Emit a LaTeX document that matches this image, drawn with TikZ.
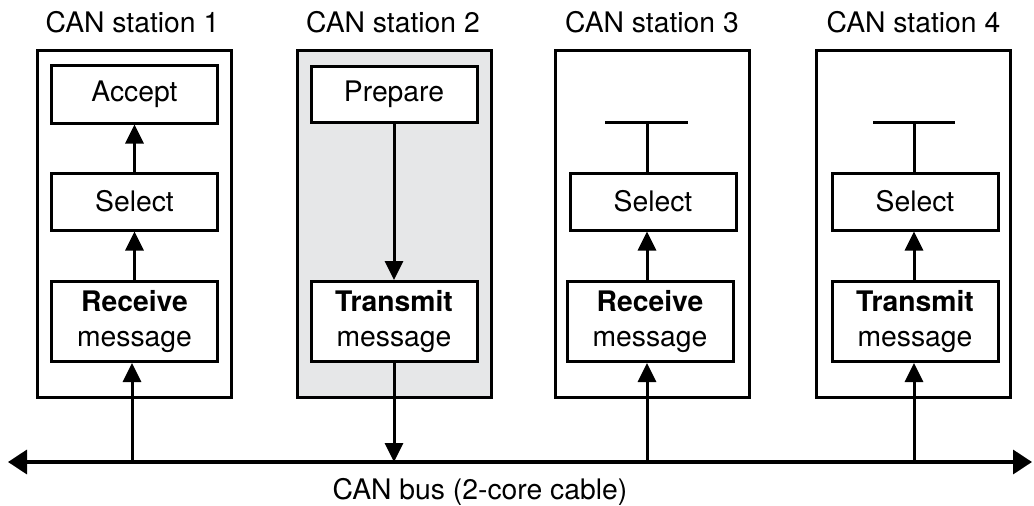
\documentclass[tikz,border=0pt]{standalone}
\usepackage{fontspec}
\setmainfont{TeX Gyre Heros}
\usetikzlibrary{arrows.meta, positioning}
\definecolor{stationgray}{HTML}{E6E7E8}

\begin{document}
\begin{tikzpicture}[
  x=1pt, y=-1pt,
  station/.style={
    draw, line width=3pt, inner sep=0pt,
    minimum width=194pt, minimum height=347pt
  },
  stage/.style={
    draw, fill=white, line width=3pt, inner sep=0pt,
    minimum width=166pt, align=center,
    font=\fontsize{28.3}{35}\selectfont
  },
  title/.style={font=\fontsize{28.3}{33}\selectfont},
  arr/.style={-{Triangle[length=19pt, width=18pt]}, line width=3pt},
  bus/.style={{Triangle[length=19pt, width=24pt]}-{Triangle[length=19pt, width=24pt]}, line width=3.5pt}
]
  \useasboundingbox (0,0) rectangle (1034,506);

  % stations
  \node[station] (st1) at (134.5,223.5) {};
  \node[station, fill=stationgray] (st2) at (394,223.5) {};
  \node[station] (st3) at (652,223.5) {};
  \node[station] (st4) at (913.5,223.5) {};

  \node[title] (t1) at (132.5,22) {CAN station 1};
  \node[title] (t2) at (393,22) {CAN station 2};
  \node[title] (t3) at (652,22) {CAN station 3};
  \node[title] (t4) at (913.5,22) {CAN station 4};

  % station 1
  \node[stage, minimum height=58pt] (acc1) at (134.5,94) {Accept};
  \node[stage, minimum height=57pt] (sel1) at (134.5,201.5) {Select};
  \node[stage, minimum height=80pt] (rec1) at (134.5,321.5) {\textbf{Receive}\\message};

  % station 2
  \node[stage, minimum height=56pt] (prep2) at (394,94.5) {Prepare};
  \node[stage, minimum height=80pt] (tx2) at (394,321.5) {\textbf{Transmit}\\message};

  % station 3
  \node[stage, minimum height=57pt] (sel3) at (653,201.5) {Select};
  \node[stage, minimum height=80pt] (rec3) at (650,321.5) {\textbf{Receive}\\message};

  % station 4
  \node[stage, minimum height=57pt] (sel4) at (915,201.5) {Select};
  \node[stage, minimum height=80pt] (tx4) at (915,321.5) {\textbf{Transmit}\\message};

  % bus
  \coordinate (busL) at (8,462);
  \coordinate (busR) at (1032,462);
  \coordinate (tap1) at (132,462);
  \coordinate (tap2) at (394,462);
  \coordinate (tap3) at (647,462);
  \coordinate (tap4) at (914,462);
  \draw[bus] (busL) -- (busR);
  \node[title] (buslabel) at (480,492) {CAN bus (2-core cable)};

  % blocked outputs
  \coordinate (bar3) at (647,122);
  \coordinate (bar4) at (914,122);

  \draw[arr] (tap1) -- (tap1 |- rec1.south);
  \draw[arr] (rec1) -- (sel1);
  \draw[arr] (sel1) -- (acc1);

  \draw[arr] (prep2) -- (tx2);
  \draw[arr] (tx2) -- (tap2);

  \draw[arr] (tap3) -- (tap3 |- rec3.south);
  \draw[arr] (rec3.north -| tap3) -- (tap3 |- sel3.south);
  \draw[line width=3pt] (tap3 |- sel3.north) -- (bar3);
  \draw[line width=3pt] ([xshift=-42pt]bar3) -- ([xshift=41pt]bar3);

  \draw[arr] (tap4) -- (tap4 |- tx4.south);
  \draw[arr] (tx4.north -| tap4) -- (tap4 |- sel4.south);
  \draw[line width=3pt] (tap4 |- sel4.north) -- (bar4);
  \draw[line width=3pt] ([xshift=-41pt]bar4) -- ([xshift=41pt]bar4);
\end{tikzpicture}
\end{document}
